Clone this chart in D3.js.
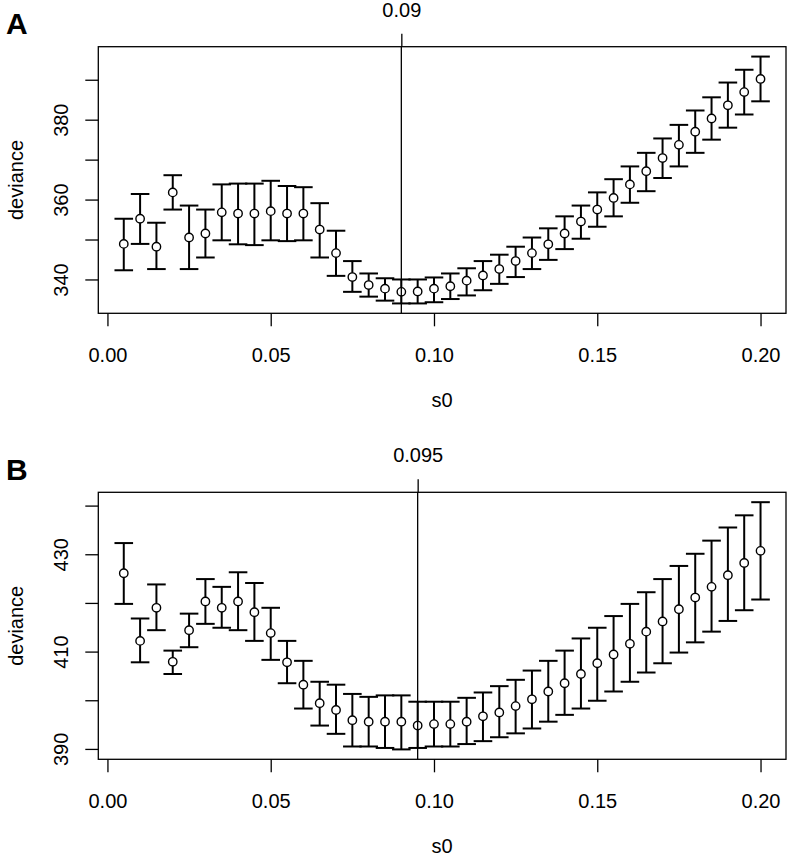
<!DOCTYPE html>
<html>
<head>
<meta charset="utf-8">
<script src="https://cdn.jsdelivr.net/npm/d3@7"></script>
<style>
  html, body { margin: 0; padding: 0; background: #fff; }
  svg { display: block; }
  text { font-family: "Liberation Sans", Arial, sans-serif; fill: #000; }
</style>
</head>
<body>
<svg id="chart" width="789" height="860"></svg>
<script>
// ---------------- data ----------------
const s0 = [0.005, 0.010, 0.015, 0.020, 0.025, 0.030, 0.035, 0.040, 0.045, 0.050,
            0.055, 0.060, 0.065, 0.070, 0.075, 0.080, 0.085, 0.090, 0.095, 0.100,
            0.105, 0.110, 0.115, 0.120, 0.125, 0.130, 0.135, 0.140, 0.145, 0.150,
            0.155, 0.160, 0.165, 0.170, 0.175, 0.180, 0.185, 0.190, 0.195, 0.200];

// Panel A
const devA = [348.9, 355.2, 348.2, 361.8, 350.5, 351.5, 356.8, 356.5, 356.5, 357.1,
              356.5, 356.5, 352.5, 346.6, 340.6, 338.6, 337.7, 336.9, 337.0, 337.7,
              338.3, 339.7, 341.0, 342.6, 344.6, 346.6, 348.8, 351.5, 354.5, 357.5,
              360.4, 363.8, 367.1, 370.4, 373.7, 377.0, 380.3, 383.6, 386.9, 390.2];
const upA  = [355.2, 361.4, 354.2, 366.1, 358.5, 357.5, 363.8, 364.0, 364.0, 364.7,
              363.4, 363.1, 359.1, 352.2, 344.6, 341.5, 340.3, 340.0, 340.0, 340.5,
              341.5, 342.8, 344.6, 346.2, 348.2, 350.5, 352.8, 355.8, 358.5, 361.8,
              365.1, 368.3, 371.7, 375.3, 378.7, 382.3, 385.6, 389.3, 392.5, 395.8];
const loA  = [342.3, 348.9, 342.6, 357.5, 342.6, 345.5, 349.8, 348.8, 348.6, 349.8,
              349.6, 349.8, 345.5, 340.9, 336.9, 335.7, 334.7, 334.0, 334.0, 334.3,
              335.1, 336.0, 337.3, 338.9, 340.6, 342.6, 344.9, 347.6, 350.2, 353.2,
              355.8, 359.2, 362.1, 365.4, 368.3, 371.7, 375.0, 378.0, 381.3, 384.6];
const bestA = 0.09;
const bestLabelA = "0.09";

// Panel B
const devB = [426.1, 412.2, 419.0, 407.9, 414.4, 420.3, 419.0, 420.3, 418.1, 413.8,
              407.8, 403.2, 399.4, 398.0, 395.9, 395.6, 395.6, 395.6, 394.8, 395.1,
              395.1, 395.6, 396.7, 397.5, 398.8, 400.2, 401.8, 403.5, 405.4, 407.6,
              409.4, 411.6, 414.1, 416.2, 418.7, 421.1, 423.3, 425.7, 428.2, 430.7];
const upB  = [432.3, 416.8, 423.8, 410.2, 417.8, 424.9, 423.3, 426.3, 424.1, 419.0,
              412.2, 408.1, 403.8, 403.2, 401.3, 400.7, 401.0, 401.0, 399.7, 399.7,
              399.7, 400.5, 401.6, 402.9, 404.2, 406.1, 408.1, 410.2, 412.7, 414.9,
              417.3, 419.8, 422.2, 424.9, 427.6, 430.1, 432.8, 435.5, 438.0, 440.7];
const loB  = [419.8, 407.8, 414.4, 405.4, 410.9, 415.7, 414.9, 414.4, 412.2, 408.3,
              403.5, 398.3, 394.8, 393.1, 390.5, 390.5, 390.2, 389.9, 390.2, 390.5,
              390.5, 391.0, 391.6, 392.4, 393.2, 394.2, 395.6, 397.0, 398.3, 399.9,
              401.8, 403.8, 405.7, 407.6, 409.8, 411.9, 414.1, 416.3, 418.5, 420.7];
const bestB = 0.095;
const bestLabelB = "0.095";

// tick labels
const xTickValues = [0.00, 0.05, 0.10, 0.15, 0.20];
const xTickLabels = ["0.00", "0.05", "0.10", "0.15", "0.20"];
const yTickValuesA = [340, 350, 360, 370, 380, 390];
const yTickLabelsA = ["340", "", "360", "", "380", ""];
const yTickValuesB = [390, 400, 410, 420, 430, 440];
const yTickLabelsB = ["390", "", "410", "", "430", ""];

const panelLetters = ["A", "B"];
const xTitle = "s0";
const yTitle = "deviance";

// ---------------- drawing ----------------
const svg = d3.select("#chart");
const FONT = 20;
const left = 98.3, right = 786;

function rPad(lo, hi) { const r = hi - lo; return [lo - 0.04 * r, hi + 0.04 * r]; }

const xDom = rPad(d3.min(s0), d3.max(s0));
const x = d3.scaleLinear().domain(xDom).range([left, right]);

function panel(cfg) {
  const { top, bottom, dev, up, lo, best, bestLabel, yTicks, yLabels, letter } = cfg;
  const yDom = rPad(d3.min(lo), d3.max(up));
  const y = d3.scaleLinear().domain(yDom).range([bottom, top]);
  const g = svg.append("g");

  // panel letter
  g.append("text").attr("x", 6).attr("y", top - 12.7)
    .attr("font-size", 30).attr("font-weight", "bold").text(letter);

  // bottom axis
  const ax = g.append("g").attr("transform", `translate(0,${bottom})`)
    .call(d3.axisBottom(x).tickValues(xTickValues)
      .tickFormat((d, i) => xTickLabels[i]).tickSize(13).tickSizeOuter(0).tickPadding(22));
  ax.select(".domain").remove();
  ax.selectAll("line").attr("stroke", "#000").attr("stroke-width", 1.3);
  ax.selectAll("text").attr("font-size", FONT).attr("font-family", null);

  // left axis
  const ay = g.append("g").attr("transform", `translate(${left},0)`)
    .call(d3.axisLeft(y).tickValues(yTicks)
      .tickFormat((d, i) => yLabels[i]).tickSize(13).tickSizeOuter(0));
  ay.select(".domain").remove();
  ay.selectAll("line").attr("stroke", "#000").attr("stroke-width", 1.3);
  ay.selectAll("text").attr("font-size", FONT).attr("font-family", null)
    .attr("x", null).attr("dy", null)
    .attr("text-anchor", "middle")
    .attr("transform", "translate(-30,0) rotate(-90)");

  // top axis at the chosen value
  const at = g.append("g").attr("transform", `translate(0,${top})`)
    .call(d3.axisTop(x).tickValues([best]).tickFormat(() => bestLabel)
      .tickSize(13).tickSizeOuter(0).tickPadding(17));
  at.select(".domain").remove();
  at.selectAll("line").attr("stroke", "#000").attr("stroke-width", 1.3);
  at.selectAll("text").attr("font-size", FONT).attr("font-family", null);

  // vertical line
  g.append("line").attr("x1", x(best)).attr("x2", x(best))
    .attr("y1", top).attr("y2", bottom)
    .attr("stroke", "#000").attr("stroke-width", 1.3);

  // error bars
  const R = 4.2, cap = 9.3;
  const pts = s0.map((s, i) => ({ s, d: dev[i], u: up[i], l: lo[i] }));
  const eb = g.append("g").attr("stroke", "#000").attr("stroke-width", 2).attr("fill", "none");
  pts.forEach(p => {
    const cx = x(p.s), cy = y(p.d), yu = y(p.u), yl = y(p.l);
    if (cy - R > yu) eb.append("line").attr("x1", cx).attr("x2", cx).attr("y1", yu).attr("y2", cy - R);
    if (cy + R < yl) eb.append("line").attr("x1", cx).attr("x2", cx).attr("y1", cy + R).attr("y2", yl);
    eb.append("line").attr("x1", cx - cap).attr("x2", cx + cap).attr("y1", yu).attr("y2", yu);
    eb.append("line").attr("x1", cx - cap).attr("x2", cx + cap).attr("y1", yl).attr("y2", yl);
  });
  g.append("g").selectAll("circle").data(pts).join("circle")
    .attr("cx", p => x(p.s)).attr("cy", p => y(p.d)).attr("r", R)
    .attr("fill", "none").attr("stroke", "#000").attr("stroke-width", 1.4);

  // box
  g.append("rect").attr("x", left).attr("y", top)
    .attr("width", right - left).attr("height", bottom - top)
    .attr("fill", "none").attr("stroke", "#000").attr("stroke-width", 1.3);

  // axis titles
  g.append("text").attr("x", (left + right) / 2).attr("y", bottom + 94)
    .attr("text-anchor", "middle").attr("font-size", FONT).text(xTitle);
  g.append("text").attr("text-anchor", "middle").attr("font-size", FONT)
    .attr("transform", `translate(${left - 75},${(top + bottom) / 2}) rotate(-90)`)
    .text(yTitle);
}

panel({ top: 46.7, bottom: 313.3, dev: devA, up: upA, lo: loA, best: bestA,
        bestLabel: bestLabelA, yTicks: yTickValuesA, yLabels: yTickLabelsA, letter: panelLetters[0] });
panel({ top: 492.3, bottom: 759.3, dev: devB, up: upB, lo: loB, best: bestB,
        bestLabel: bestLabelB, yTicks: yTickValuesB, yLabels: yTickLabelsB, letter: panelLetters[1] });
</script>
</body>
</html>
